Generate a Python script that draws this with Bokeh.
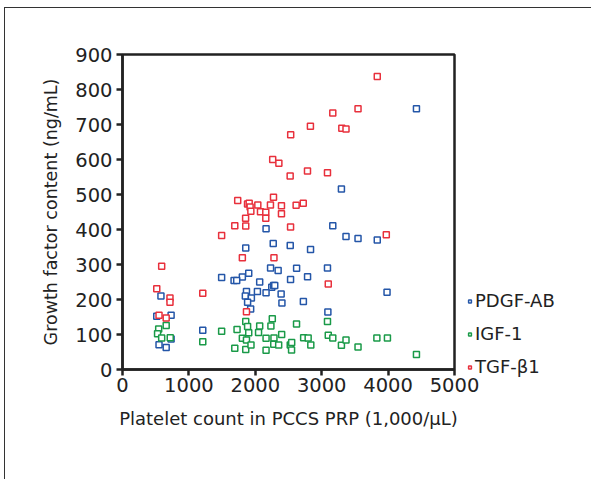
from bokeh.plotting import figure
from bokeh.models import Legend, LegendItem, FixedTicker, Range1d, InlineStyleSheet
from bokeh.embed import file_html
from bokeh.resources import INLINE

# ---- data ----
pdgf_x = [4427, 3297, 3167, 3366, 3547, 3837, 2162, 2270, 2526, 2832, 1856, 2230, 2344, 2622, 3087,
          1493, 1805, 1680, 1720, 1901, 2066, 2531, 2787, 2248, 2276, 2293, 2032, 2162, 1867, 2389,
          1850, 1941, 1884, 2401, 2724, 3984, 579, 516, 732, 1930, 3093, 1209, 550, 658, 732]
pdgf_y = [745, 516, 411, 380, 374, 370, 402, 360, 354, 343, 347, 290, 283, 289, 290,
          263, 264, 254, 254, 275, 250, 257, 265, 235, 240, 240, 223, 219, 223, 216,
          210, 204, 192, 190, 194, 221, 210, 152, 155, 173, 164, 112, 71, 63, 87]

igf_x = [4427, 545, 658, 528, 590, 719, 1209, 1493, 1725, 1691, 1805, 1856, 1884, 1901, 1867,
         1856, 1935, 2049, 2066, 2162, 2162, 2235, 2256, 2281, 2278, 2352, 2397, 2526, 2548, 2546,
         2621, 2728, 2796, 2836, 3087, 3099, 3167, 3297, 3366, 3547, 3831, 3990]
igf_y = [43, 116, 126, 102, 90, 91, 79, 109, 114, 61, 89, 137, 123, 105, 84,
         57, 70, 106, 124, 89, 55, 124, 145, 90, 72, 70, 100, 70, 77, 56,
         130, 91, 90, 70, 137, 98, 90, 69, 84, 64, 90, 90]

tgf_x = [3837, 3167, 3547, 2830, 3303, 3366, 2533, 2262, 2355, 2525, 2786, 3087, 2274, 1735, 1883,
         1908, 2038, 2228, 2394, 2615, 2722, 1922, 1933, 2078, 2158, 2394, 1854, 2158, 1691, 1856,
         2531, 1493, 3973, 1805, 2281, 590, 516, 1209, 715, 715, 3099, 550, 658, 1867]
tgf_y = [837, 733, 745, 695, 689, 687, 671, 600, 589, 553, 567, 562, 492, 483, 473,
         475, 470, 470, 468, 469, 475, 464, 452, 451, 449, 445, 432, 432, 411, 410,
         407, 383, 385, 319, 319, 295, 231, 218, 204, 192, 244, 155, 147, 165]

series_names = ["PDGF-AB", "IGF-1", "TGF-\u03b21"]
series_colors = ["#2456a8", "#1a9a48", "#e8303c"]
x_ticks = [0, 1000, 2000, 3000, 4000, 5000]
y_ticks = [0, 100, 200, 300, 400, 500, 600, 700, 800, 900]

FONT = "DejaVu Sans"

p = figure(width=592, height=479, output_backend="svg", toolbar_location=None,
           x_range=Range1d(0, 5000), y_range=Range1d(0, 900),
           min_border_left=122, min_border_right=138, min_border_top=54, min_border_bottom=110)
p.frame_width = 332
p.frame_height = 315
p.grid.visible = False
p.outline_line_color = "#222222"
p.outline_line_width = 2.5
p.outline_line_alpha = 1
p.background_fill_color = "white"
p.border_fill_color = "white"

for ax in (p.xaxis[0], p.yaxis[0]):
    ax.axis_line_color = "#222222"
    ax.axis_line_width = 2.5
    ax.major_tick_line_color = "#222222"
    ax.major_tick_line_width = 2.5
    ax.major_tick_out = 6
    ax.major_tick_in = 0
    ax.minor_tick_line_color = None
    ax.major_label_text_font = FONT
    ax.major_label_text_font_size = "19.5px"
    ax.major_label_text_color = "#222222"
    ax.axis_label_text_font = FONT
    ax.axis_label_text_font_style = "normal"
    ax.axis_label_text_color = "#222222"

p.xaxis.axis_label_text_font_size = "18px"
p.yaxis.axis_label_text_font_size = "17.5px"
p.xaxis.ticker = FixedTicker(ticks=x_ticks)
p.yaxis.ticker = FixedTicker(ticks=y_ticks)
p.xaxis.axis_label = "Platelet count in PCCS PRP (1,000/\u03bcL)"
p.yaxis.axis_label = "Growth factor content (ng/mL)"
p.xaxis.major_label_standoff = 2
p.yaxis.major_label_standoff = 4
p.xaxis.axis_label_standoff = 13
p.yaxis.axis_label_standoff = 11

rends = []
for xs, ys, c in [(pdgf_x, pdgf_y, series_colors[0]), (igf_x, igf_y, series_colors[1]),
                  (tgf_x, tgf_y, series_colors[2])]:
    r = p.scatter(xs, ys, marker="square", size=6, fill_color="white",
                  line_color=c, line_width=1.5)
    rends.append(r)

legend = Legend(items=[LegendItem(label=n, renderers=[r]) for n, r in zip(series_names, rends)],
                location=(12, -8), orientation="vertical",
                label_text_font=FONT, label_text_font_size="18px", label_text_color="#222222",
                glyph_width=7, glyph_height=20, label_height=20, label_standoff=2,
                spacing=12, padding=0, margin=0,
                border_line_color=None, background_fill_alpha=0)
p.add_layout(legend, "right")

p.stylesheets = [InlineStyleSheet(css="""
:host::before {
  content: "";
  position: absolute;
  left: 4px; top: 7px; width: 586px; height: 471px;
  border: none;
  outline: none;
  box-shadow: none;
  background: transparent;
  border-left: 1px solid #333333;
  border-top: 1px solid #333333;
  pointer-events: none;
  z-index: 10;
}
""")]

open("out.html", "w").write(file_html(p, INLINE))
